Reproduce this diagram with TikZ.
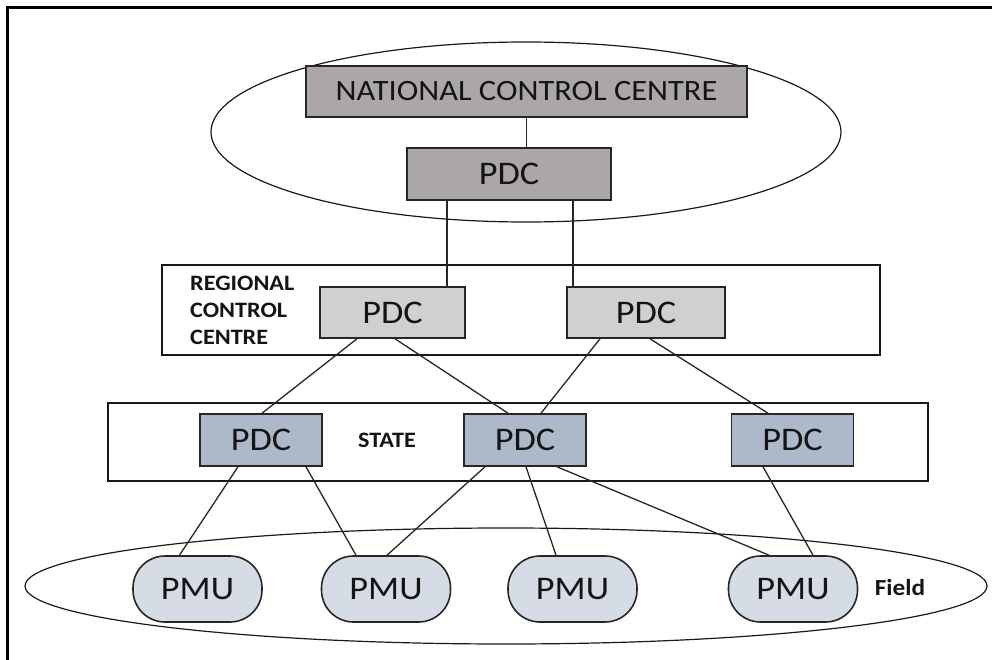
\documentclass[tikz,border=0pt]{standalone}
\usepackage{fontspec}
\setmainfont{Carlito}[FakeStretch=1.1]
\usetikzlibrary{calc,shapes.geometric}
\definecolor{natfill}{RGB}{171,167,167}
\definecolor{regfill}{RGB}{209,207,207}
\definecolor{stafill}{RGB}{173,185,202}
\definecolor{pmufill}{RGB}{214,220,229}
\definecolor{txt}{RGB}{20,20,20}
\begin{document}
\begin{tikzpicture}[x=1pt,y=-1pt,
  box/.style={draw=black!85, line width=1.6pt, inner sep=0pt, text=txt, font=\fontsize{33}{38}\selectfont},
  natbox/.style={box, fill=natfill},
  regbox/.style={box, fill=regfill, minimum width=145pt, minimum height=51pt},
  stabox/.style={box, fill=stafill, minimum width=122pt, minimum height=52pt},
  pmubox/.style={box, fill=pmufill, minimum width=129pt, minimum height=66pt, rounded corners=32pt},
  frame/.style={draw=black!90, line width=1.2pt},
  link/.style={draw=black!85, line width=1.3pt},
  lbl/.style={font=\bfseries\fontsize{22}{27}\selectfont, inner sep=0pt, text=txt}]
\useasboundingbox (0,0) rectangle (992,660);
% outer frame
\draw[line width=3pt] (7,660) -- (7,8) -- (992,8);
% national
\node[frame, ellipse, minimum width=630pt, minimum height=180pt, inner sep=0pt] (natell) at (526,132) {};
\node[natbox, minimum width=441pt, minimum height=51pt, font=\fontsize{29.5}{34}\selectfont] (ncc) at (526.5,91.5) {NATIONAL CONTROL CENTRE};
\node[natbox, minimum width=204pt, minimum height=52pt] (npdc) at (509,174) {PDC};
% regional
\node[frame, draw, rectangle, minimum width=718pt, minimum height=90pt, inner sep=0pt] (regrect) at (521,310) {};
\node[lbl, align=left, anchor=west] (reglbl) at (190,310) {REGIONAL\\CONTROL\\CENTRE};
\node[regbox] (rp1) at (392.5,312.5) {PDC};
\node[regbox, minimum width=158pt] (rp2) at (646,312.5) {PDC};
% state
\node[frame, draw, rectangle, minimum width=820pt, minimum height=78pt, inner sep=0pt] (starect) at (518,442) {};
\node[lbl] (stalbl) at (387,440) {STATE};
\node[stabox] (sp1) at (261,440) {PDC};
\node[stabox] (sp2) at (525,440) {PDC};
\node[stabox] (sp3) at (792.5,440) {PDC};
% field
\node[frame, ellipse, minimum width=962pt, minimum height=116pt, inner sep=0pt] (fieldell) at (506,586) {};
\node[pmubox] (pmu1) at (197.5,589) {PMU};
\node[pmubox] (pmu2) at (386,589) {PMU};
\node[pmubox] (pmu3) at (572.5,589) {PMU};
\node[pmubox] (pmu4) at (793,589) {PMU};
\node[lbl, font=\bfseries\fontsize{23}{28}\selectfont] (fieldlbl) at (900,588) {Field};
% links
\draw[link] (ncc) -- (ncc.south |- npdc.north);
\draw[link] ([xshift=-62pt]npdc.south) -- ([xshift=-62pt]npdc.south |- rp1.north);
\draw[link] ([xshift=64pt]npdc.south) -- ([xshift=64pt]npdc.south |- rp2.north);
\draw[link] ([xshift=-35.5pt]rp1.south) -- ([xshift=1pt]sp1.north);
\draw[link] ([xshift=2.5pt]rp1.south) -- ([xshift=-17pt]sp2.north);
\draw[link] ([xshift=-46pt]rp2.south) -- ([xshift=16pt]sp2.north);
\draw[link] ([xshift=4pt]rp2.south) -- ([xshift=-24.5pt]sp3.north);
\draw[link] ([xshift=-23pt]sp1.south) -- ([xshift=-18pt]pmu1.north);
\draw[link] ([xshift=45pt]sp1.south) -- ([xshift=-30pt]pmu2.north);
\draw[link] ([xshift=-40pt]sp2.south) -- ([xshift=1pt]pmu2.north);
\draw[link] ([xshift=1pt]sp2.south) -- ([xshift=-16.5pt]pmu3.north);
\draw[link] ([xshift=32pt]sp2.south) -- ([xshift=-24pt]pmu4.north);
\draw[link] ([xshift=-29.5pt]sp3.south) -- ([xshift=20pt]pmu4.north);
\end{tikzpicture}
\end{document}
